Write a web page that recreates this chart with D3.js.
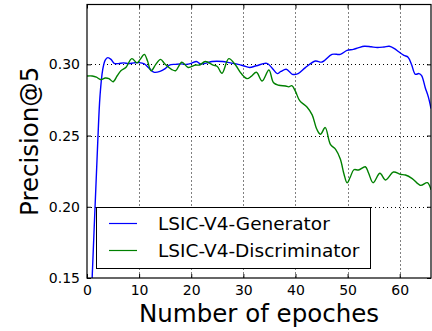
<html>
<head>
<script src="https://d3js.org/d3.v7.min.js"></script>
<style>
  body { margin: 0; background: #fff; }
  text { font-family: 'DejaVu Sans', sans-serif; fill: #000; }
</style>
</head>
<body>
<svg id="svg" width="432" height="331"></svg>
<script>
// epochs and values
var genEpochs = [0, 1, 2, 2.5, 3, 3.5, 4, 4.6, 5.2, 6, 7, 8, 9, 10, 11, 12, 12.8, 14, 15, 15.8, 17, 18, 19, 20, 21, 21.8, 23, 24, 26, 27.5, 29, 30, 31.2, 32.5, 34.5, 35.5, 36.5, 37.2, 38.2, 38.8, 39.4, 40.5, 41.9, 43.8, 45.1, 47, 48.6, 49.9, 51.1, 52, 53.2, 54.5, 55.7, 57, 58, 59, 59.8, 60.8, 61.6, 62.3, 63, 63.7, 64.2, 64.9, 65.5, 66];
var genValues = [0.063, 0.151, 0.240, 0.278, 0.296, 0.303, 0.3047, 0.3035, 0.3007, 0.3005, 0.301, 0.3005, 0.301, 0.3012, 0.3003, 0.297, 0.2945, 0.295, 0.297, 0.2995, 0.300, 0.3003, 0.300, 0.3007, 0.302, 0.3002, 0.301, 0.302, 0.302, 0.301, 0.300, 0.299, 0.2978, 0.299, 0.3007, 0.2975, 0.2935, 0.295, 0.2965, 0.295, 0.293, 0.2935, 0.2977, 0.3023, 0.3016, 0.307, 0.307, 0.3098, 0.3105, 0.3115, 0.3127, 0.3123, 0.3118, 0.3122, 0.3127, 0.311, 0.3088, 0.3063, 0.305, 0.2995, 0.293, 0.2935, 0.292, 0.2836, 0.277, 0.269];

var disEpochs = [0, 1, 1.8, 2.6, 3.5, 4.2, 5, 5.8, 6.5, 7.5, 8.6, 9.6, 10.2, 11, 11.6, 12.3, 13.2, 14.1, 15, 16.2, 17, 18.2, 19.4, 20.8, 21.6, 22.7, 24.2, 25, 25.9, 27.2, 28.5, 29.6, 30.7, 31.5, 32.5, 33.6, 34.9, 35.8, 36.8, 38.1, 38.7, 39.3, 40, 40.8, 42.2, 43.2, 44.1, 44.8, 45.7, 46.7, 47.7, 48.6, 49.3, 49.9, 50.5, 51.2, 52.1, 53.4, 54, 54.9, 56.2, 57.3, 58.8, 60.1, 61.1, 62.4, 64, 65.3, 66];
var disValues = [0.2918, 0.2918, 0.291, 0.2893, 0.2904, 0.290, 0.2878, 0.292, 0.2955, 0.298, 0.304, 0.301, 0.3035, 0.307, 0.3025, 0.2955, 0.300, 0.3035, 0.300, 0.2965, 0.2955, 0.3015, 0.2978, 0.2995, 0.2995, 0.302, 0.2995, 0.2985, 0.2937, 0.304, 0.2995, 0.2935, 0.290, 0.2915, 0.2944, 0.2883, 0.296, 0.287, 0.2853, 0.2848, 0.2842, 0.285, 0.281, 0.2745, 0.270, 0.2645, 0.2544, 0.2509, 0.2556, 0.2438, 0.2403, 0.2335, 0.223, 0.2168, 0.2207, 0.226, 0.2258, 0.2281, 0.2239, 0.2169, 0.2235, 0.2188, 0.2244, 0.2228, 0.2223, 0.2198, 0.215, 0.2169, 0.212];

var seriesNames = ["LSIC-V4-Generator", "LSIC-V4-Discriminator"];
var seriesColors = ["#0000ff", "#008000"];
var xTicks = [0, 10, 20, 30, 40, 50, 60];
var yTicks = [0.15, 0.20, 0.25, 0.30];

var svg = d3.select("svg");
var pLeft = 87, pRight = 431, pTop = 4.5, pBottom = 278;

var x = d3.scaleLinear().domain([0, 66]).range([pLeft, pRight]);
var y = d3.scaleLinear().domain([0.15, 0.342]).range([pBottom, pTop]);

// grid
var grid = svg.append("g").attr("stroke", "#000").attr("stroke-width", 1).attr("stroke-dasharray", "1,3");
grid.selectAll(".gx").data(xTicks.slice(1)).enter().append("line")
    .attr("x1", d => Math.round(x(d)) + 0.5).attr("x2", d => Math.round(x(d)) + 0.5)
    .attr("y1", pTop).attr("y2", pBottom);
grid.selectAll(".gy").data(yTicks.slice(1)).enter().append("line")
    .attr("y1", d => Math.round(y(d)) + 0.5).attr("y2", d => Math.round(y(d)) + 0.5)
    .attr("x1", pLeft).attr("x2", pRight);

// lines
svg.append("clipPath").attr("id", "clip").append("rect")
    .attr("x", pLeft).attr("y", pTop).attr("width", pRight - pLeft).attr("height", pBottom - pTop);

var line = d3.line().x(d => x(d[0])).y(d => y(d[1])).curve(d3.curveCatmullRom.alpha(0.5));
var series = [d3.zip(genEpochs, genValues), d3.zip(disEpochs, disValues)];
svg.append("g").attr("clip-path", "url(#clip)").selectAll("path").data(series).enter().append("path")
    .attr("d", line).attr("fill", "none")
    .attr("stroke", (d, i) => seriesColors[i]).attr("stroke-width", 1.4);

// frame + inward ticks on all sides
var axB = d3.axisBottom(x).tickValues(xTicks).tickSize(-4).tickPadding(7).tickFormat(d3.format("d"));
var axT = d3.axisTop(x).tickValues(xTicks).tickSize(-4).tickFormat("");
var axL = d3.axisLeft(y).tickValues(yTicks).tickSize(-4).tickPadding(7).tickFormat(d3.format(".2f"));
var axR = d3.axisRight(y).tickValues(yTicks).tickSize(-4).tickFormat("");
[[axB, "translate(0," + pBottom + ")"], [axT, "translate(0," + pTop + ")"],
 [axL, "translate(" + pLeft + ",0)"], [axR, "translate(" + pRight + ",0)"]].forEach(function(a) {
    var g = svg.append("g").attr("transform", a[1]).call(a[0]);
    g.select(".domain").remove();
    g.selectAll("line").attr("stroke", "#000");
    g.selectAll("text").attr("font-size", 14).attr("font-family", "DejaVu Sans");
});
svg.append("rect").attr("x", pLeft).attr("y", pTop).attr("width", pRight - pLeft).attr("height", pBottom - pTop)
    .attr("fill", "none").attr("stroke", "#000").attr("stroke-width", 1.2);

// axis labels
svg.append("text").attr("x", (pLeft + pRight) / 2).attr("y", 322).attr("text-anchor", "middle")
    .attr("font-size", 24.5).text("Number of epoches");
svg.append("text").attr("transform", "translate(37.5," + (pTop + pBottom) / 2 + ") rotate(-90)")
    .attr("text-anchor", "middle").attr("font-size", 24.5).text("Precision@5");

// legend
var lg = svg.append("g");
lg.append("rect").attr("x", 96.5).attr("y", 207.5).attr("width", 274).attr("height", 61)
    .attr("fill", "#fff").attr("stroke", "#000").attr("stroke-width", 1);
seriesNames.forEach(function(name, i) {
    var cy = 223.5 + i * 27;
    lg.append("line").attr("x1", 109).attr("x2", 137).attr("y1", cy).attr("y2", cy)
        .attr("stroke", seriesColors[i]).attr("stroke-width", 1.2);
    lg.append("text").attr("x", 158).attr("y", cy + 6.5).attr("font-size", 18.5).text(name);
});
</script>
</body>
</html>
